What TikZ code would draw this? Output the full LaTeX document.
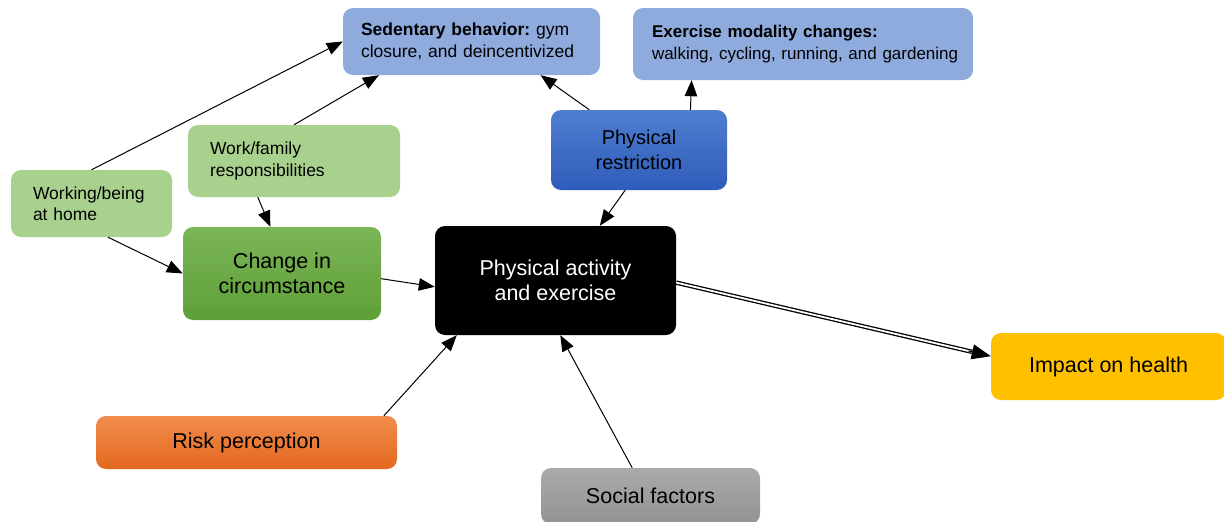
\documentclass[tikz,border=0pt]{standalone}
\usepackage{fontspec}
\setmainfont{Liberation Sans}
\usetikzlibrary{arrows.meta}
\definecolor{paleblue}{HTML}{8FAADC}
\definecolor{palegreen}{HTML}{A9D18E}
\definecolor{greentop}{HTML}{7BB657}
\definecolor{greenbot}{HTML}{5F9F37}
\definecolor{bluetop}{HTML}{4E7ED0}
\definecolor{bluebot}{HTML}{2F5CBA}
\definecolor{orangetop}{HTML}{F18C4D}
\definecolor{orangebot}{HTML}{E3681F}
\definecolor{graytop}{HTML}{AAAAAA}
\definecolor{graybot}{HTML}{939393}
\definecolor{healthyellow}{HTML}{FFC000}
\frenchspacing
\hyphenpenalty=10000

\begin{document}
\begin{tikzpicture}[x=1pt,y=-1pt,
	box/.style={rounded corners=10pt, inner sep=0pt, align=center, font=\fontsize{21.5}{25.5}\selectfont},
	note/.style={box, inner xsep=18pt, align=left, font=\fontsize{17.5}{21.5}\selectfont},
	arr/.style={-{Triangle[length=16pt,width=12.5pt]}, line width=1pt}]
		\useasboundingbox (0,0) rectangle (1224,522);
		%% top row
		\node[note, fill=paleblue, text width=221pt, minimum height=67pt] (sed) at (471.5,41.5)
		{\textbf{Sedentary behavior:} gym\\closure, and deincentivized};
		\node[note, fill=paleblue, inner xsep=19pt, text width=302pt, minimum height=72pt, font=\fontsize{17}{21.5}\selectfont] (exm) at (803,44)
		{\textbf{Exercise modality changes:}\\\mbox{walking, cycling, running, and gardening}};
		\node[box, top color=bluetop, bottom color=bluebot, minimum width=176pt, minimum height=80pt, font=\fontsize{20}{25}\selectfont] (phr) at (639,150)
		{Physical\\restriction};
		%% green boxes on the left
		\node[note, fill=palegreen, inner xsep=22pt, text width=168pt, minimum height=72pt] (wfr) at (294,161)
		{Work/family\\responsibilities};
		\node[note, fill=palegreen, inner xsep=22pt, text width=117pt, minimum height=67pt] (wbh) at (91.5,203.5)
		{Working/being\\at home};
		\node[box, top color=greentop, bottom color=greenbot, minimum width=198pt, minimum height=93pt] (cic) at (282,273.5)
		{Change in\\circumstance};
		%% centre and the rest
		\node[box, fill=black, text=white, minimum width=241pt, minimum height=109pt] (pae) at (555.5,280.5)
		{Physical activity\\and exercise};
		\node[box, fill=healthyellow, minimum width=235pt, minimum height=67pt] (imp) at (1108.5,366.5)
		{Impact on health};
		\node[box, top color=orangetop, bottom color=orangebot, minimum width=301pt, minimum height=53pt] (rsk) at (246.5,442.5)
		{Risk perception};
		\node[box, top color=graytop, bottom color=graybot, minimum width=219pt, minimum height=56pt] (soc) at (650.5,496)
		{Social factors};
		%% connectors
		\draw[arr] (wbh.north) -- (sed.west);
		\draw[arr] (wfr.north) -- (sed.200);
		\draw[arr] (phr.141) -- (sed.-26);
		\draw[arr] (phr.38) -- (exm.198);
		\draw[arr] (phr.251) -- (pae.51);
		\draw[arr] (wfr.225) -- (cic.104);
		\draw[arr] (wbh.-64) -- (cic.west);
		\draw[arr] (cic.-3) -- (pae.183);
		\draw[arr] (rsk.11) -- (pae.209);
		\draw[arr] (soc.123) -- (pae.-85);
		%% the double line, with its tip drawn on its own
		\draw[double, double distance=1.8pt, line width=1.3pt, shorten >=14pt] (pae.-1) -- (imp.175);
		\draw[-{Triangle[length=19pt,width=15pt]}, line width=1pt, shorten <=300pt] (pae.-1) -- (imp.175);
	\end{tikzpicture}
\end{document}
